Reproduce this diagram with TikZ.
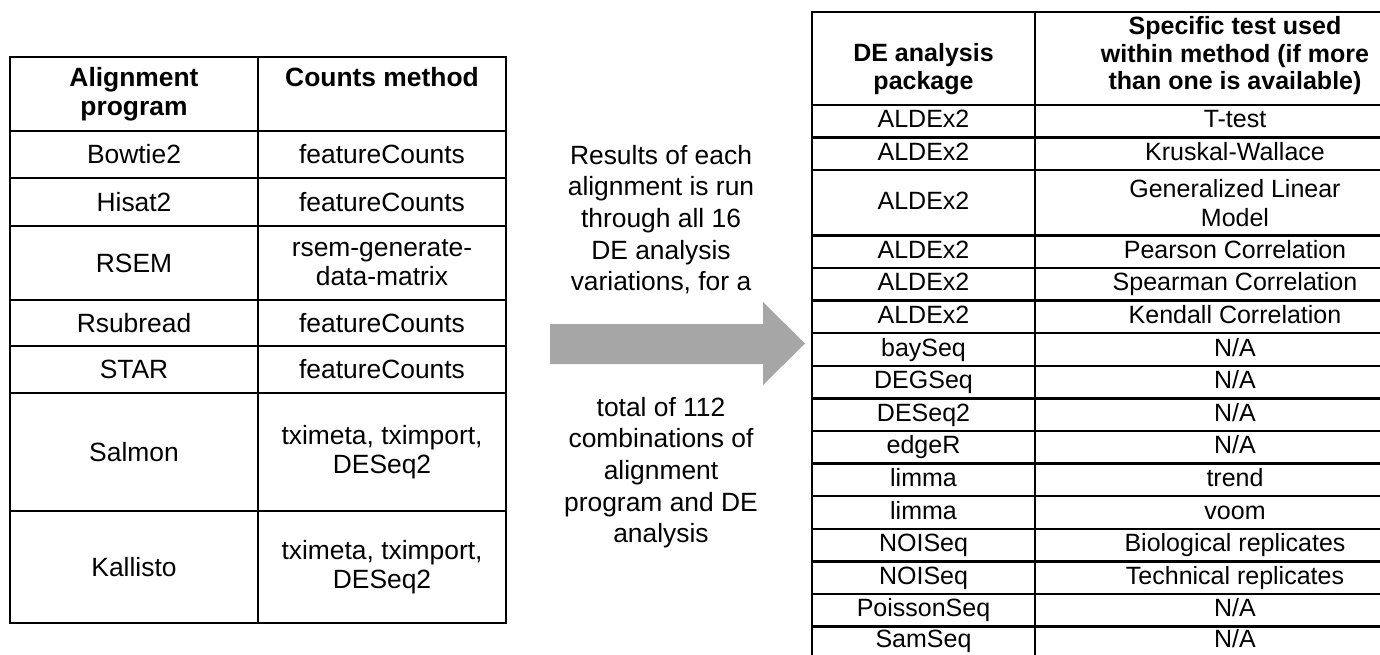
\documentclass[tikz,border=0pt]{standalone}
\usepackage{fontspec}
\setmainfont{Liberation Sans}
\usepackage{xcolor}
\usepackage{tikz}

\definecolor{arrowgray}{HTML}{A6A6A6}

\tikzset{
  lcell/.style={draw, line width=1.25pt, minimum width=124pt, inner sep=0pt,
    align=center, font=\fontsize{13.2}{14.5}\selectfont},
  rcell/.style={draw, line width=1.25pt, minimum width=111.5pt, minimum height=16.3pt,
    inner sep=0pt, align=center, font=\fontsize{12.5}{14.5}\selectfont},
  pkgcell/.style={rcell, text height=9.2pt, text depth=2.6pt},
  testcell/.style={pkgcell, minimum width=200pt},
  hdtext/.style={inner sep=0pt, align=center, font=\fontsize{12.5}{13.8}\selectfont\bfseries},
  midtext/.style={inner sep=0pt, align=center, font=\fontsize{13.2}{15.85}\selectfont}
}

\begin{document}
\begin{tikzpicture}[x=0.5pt,y=-0.5pt]
    \useasboundingbox (0,0) rectangle (1380,654);
    \clip (0,0) rectangle (1380,654);

    % alignment table
    \node[lcell, minimum height=37pt] (alignHd) at (134,94) {\bfseries Alignment\\\bfseries program};
    \node[lcell, minimum height=37pt] (countsHd) at (382,94) {\bfseries Counts method\\\vphantom{g}};
    \node[lcell, minimum height=23.5pt] (bowtie) at (134,154.5) {Bowtie2};
    \node[lcell, minimum height=23.5pt] (bowtieCnt) at (382,154.5) {featureCounts};
    \node[lcell, minimum height=24pt] (hisat) at (134,202) {Hisat2};
    \node[lcell, minimum height=24pt] (hisatCnt) at (382,202) {featureCounts};
    \node[lcell, minimum height=37pt] (rsem) at (134,263) {RSEM};
    \node[lcell, minimum height=37pt] (rsemCnt) at (382,263) {rsem-generate-\\data-matrix};
    \node[lcell, minimum height=23pt] (rsubread) at (134,323) {Rsubread};
    \node[lcell, minimum height=23pt] (rsubreadCnt) at (382,323) {featureCounts};
    \node[lcell, minimum height=23.5pt] (star) at (134,369.5) {STAR};
    \node[lcell, minimum height=23.5pt] (starCnt) at (382,369.5) {featureCounts};
    \node[lcell, minimum height=59pt] (salmon) at (134,452) {Salmon};
    \node[lcell, minimum height=59pt] (salmonCnt) at (382,452) {tximeta, tximport,\\DESeq2};
    \node[lcell, minimum height=56pt] (kallisto) at (134,567) {Kallisto};
    \node[lcell, minimum height=56pt] (kallistoCnt) at (382,567) {tximeta, tximport,\\DESeq2};

    % note and arrow
    \node[midtext, anchor=north] (noteTop) at (661,144.5) {Results of each\\alignment is run\\through all 16\\DE analysis\\variations, for a};
    \node[midtext, anchor=north] (noteBot) at (661,396.5) {total of 112\\combinations of\\alignment\\program and DE\\analysis};
    \fill[arrowgray] (550,324) -- (763,324) -- (763,302) -- (805,343.5) -- (763,385) -- (763,364) -- (550,364) -- cycle;

    % DE analysis table
    \node[rcell, minimum height=46.5pt] (pkgHd) at (923.5,58.5) {};
    \node[rcell, minimum width=200pt, minimum height=46.5pt] (testHd) at (1235,58.5) {};
    \node[hdtext, anchor=south] (pkgHdText) at ([yshift=5.5pt]pkgHd.south) {DE analysis\\package};
    \node[hdtext, anchor=south] (testHdText) at ([yshift=5.5pt]testHd.south) {Specific test used\\within method (if more\\than one is available)};
    \node[pkgcell] (pkgA) at (923.5,121.3) {ALDEx2};
    \node[testcell] (testA) at (1235,121.3) {T-test};
    \node[pkgcell] (pkgB) at (923.5,153.9) {ALDEx2};
    \node[testcell] (testB) at (1235,153.9) {Kruskal-Wallace};
    \node[pkgcell, minimum height=32.6pt] (pkgC) at (923.5,202.8) {ALDEx2};
    \node[rcell, minimum width=200pt, minimum height=32.6pt] (testC) at (1235,202.8) {Generalized Linear\\Model};
    \node[pkgcell] (pkgD) at (923.5,251.7) {ALDEx2};
    \node[testcell] (testD) at (1235,251.7) {Pearson Correlation};
    \node[pkgcell] (pkgE) at (923.5,284.3) {ALDEx2};
    \node[testcell] (testE) at (1235,284.3) {Spearman Correlation};
    \node[pkgcell] (pkgF) at (923.5,316.9) {ALDEx2};
    \node[testcell] (testF) at (1235,316.9) {Kendall Correlation};
    \node[pkgcell] (pkgG) at (923.5,349.5) {baySeq};
    \node[testcell] (testG) at (1235,349.5) {N/A};
    \node[pkgcell] (pkgH) at (923.5,382.1) {DEGSeq};
    \node[testcell] (testH) at (1235,382.1) {N/A};
    \node[pkgcell] (pkgI) at (923.5,414.7) {DESeq2};
    \node[testcell] (testI) at (1235,414.7) {N/A};
    \node[pkgcell] (pkgJ) at (923.5,447.3) {edgeR};
    \node[testcell] (testJ) at (1235,447.3) {N/A};
    \node[pkgcell] (pkgK) at (923.5,479.9) {limma};
    \node[testcell] (testK) at (1235,479.9) {trend};
    \node[pkgcell] (pkgL) at (923.5,512.5) {limma};
    \node[testcell] (testL) at (1235,512.5) {voom};
    \node[pkgcell] (pkgM) at (923.5,545.1) {NOISeq};
    \node[testcell] (testM) at (1235,545.1) {Biological replicates};
    \node[pkgcell] (pkgN) at (923.5,577.7) {NOISeq};
    \node[testcell] (testN) at (1235,577.7) {Technical replicates};
    \node[pkgcell] (pkgO) at (923.5,610.3) {PoissonSeq};
    \node[testcell] (testO) at (1235,610.3) {N/A};
    \node[pkgcell, text depth=4.4pt] (pkgP) at (923.5,642.9) {SamSeq};
    \node[testcell, text depth=4.4pt] (testP) at (1235,642.9) {N/A};
\end{tikzpicture}
\end{document}
